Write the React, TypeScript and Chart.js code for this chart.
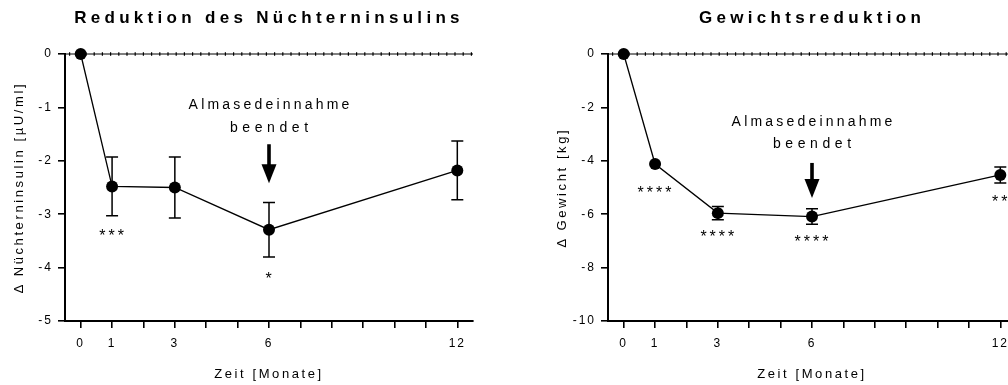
import React, { useEffect, useRef } from "react";
import { Chart, registerables } from "chart.js";
Chart.register(...registerables);

const FONT = '"Liberation Sans", Arial, sans-serif';

// ---- data ----
const months = [0, 1, 3, 6, 12];
const xTickValues = [0, 1, 2, 3, 4, 5, 6, 7, 8, 9, 10, 11, 12];
const xTickLabels = ["0", "1", "3", "6", "12"];

const insulinMean = [0, -2.48, -2.5, -3.29, -2.18];
const insulinSem = [0, 0.55, 0.57, 0.51, 0.55];

const weightMean = [0, -4.12, -5.96, -6.09, -4.53];
const weightSem = [0, 0, 0.25, 0.29, 0.3];

const insulinStarsX = [1, 6];
const insulinStarsY = [-3.36, -4.15];
const insulinStars = ["***", "*"];

const weightStarsX = [1, 3, 6, 12];
const weightStarsY = [-5.08, -6.73, -6.95, -5.45];
const weightStars = ["****", "****", "****", "**"];

const noteLines = ["Almasedeinnahme", "beendet"];
const noteX = 6;
const insulinNoteY = [-0.96, -1.39];
const insulinArrow = [-1.69, -2.42];
const weightNoteY = [-2.54, -3.36];
const weightArrow = [-4.08, -5.39];

type Cfg = {
  title: string;
  yTitle: string;
  mean: number[];
  sem: number[];
  yMin: number;
  yMax: number;
  yStep: number;
  starsX: number[];
  starsY: number[];
  stars: string[];
  noteY: number[];
  arrow: number[];
  yAxisWidth: number;
  padRight: number;
};

function makeChart(canvas: HTMLCanvasElement, c: Cfg) {
  const plugin = {
    id: "custom",
    beforeDraw(chart: any) {
      chart.ctx.letterSpacing = "2px";
    },
    beforeDatasetsDraw(chart: any) {
      const { ctx, chartArea: ca, scales } = chart;
      const x = scales.x;
      const y = scales.y;
      const y0 = y.getPixelForValue(0);
      ctx.save();
      ctx.strokeStyle = "#000";
      ctx.lineWidth = 1;
      ctx.beginPath();
      ctx.moveTo(ca.left, y0);
      ctx.lineTo(ca.right, y0);
      ctx.stroke();
      ctx.setLineDash([1.2, 7]);
      ctx.lineWidth = 3.5;
      ctx.beginPath();
      ctx.moveTo(ca.left + 4, y0);
      ctx.lineTo(ca.right, y0);
      ctx.stroke();
      ctx.setLineDash([]);
      // error bars
      ctx.lineWidth = 1.5;
      months.forEach((m, i) => {
        const e = c.sem[i];
        if (!e) return;
        const px = x.getPixelForValue(m);
        const top = y.getPixelForValue(c.mean[i] + e);
        const bot = y.getPixelForValue(c.mean[i] - e);
        ctx.beginPath();
        ctx.moveTo(px, top);
        ctx.lineTo(px, bot);
        ctx.moveTo(px - 6, top);
        ctx.lineTo(px + 6, top);
        ctx.moveTo(px - 6, bot);
        ctx.lineTo(px + 6, bot);
        ctx.stroke();
      });
      ctx.restore();
    },
    afterDraw(chart: any) {
      const { ctx, chartArea: ca, scales } = chart;
      const x = scales.x;
      const y = scales.y;
      ctx.save();
      ctx.fillStyle = "#000";
      ctx.textAlign = "center";
      ctx.textBaseline = "middle";
      // title
      ctx.font = `bold 17px ${FONT}`;
      ctx.letterSpacing = "4.3px";
      ctx.fillText(c.title, (ca.left + ca.right) / 2, 18);
      // x title
      ctx.font = `13px ${FONT}`;
      ctx.letterSpacing = "2.6px";
      ctx.fillText("Zeit [Monate]", (ca.left + ca.right) / 2, ca.bottom + 53);
      // y title
      ctx.save();
      ctx.translate(ca.left - 45.5, (ca.top + ca.bottom) / 2);
      ctx.rotate(-Math.PI / 2);
      ctx.fillText(c.yTitle, 0, 0);
      ctx.restore();
      // stars
      ctx.font = `16px ${FONT}`;
      ctx.letterSpacing = "3px";
      c.stars.forEach((s, i) => {
        ctx.fillText(s, x.getPixelForValue(c.starsX[i]) + 1, y.getPixelForValue(c.starsY[i]) + 3.5);
      });
      // note
      ctx.font = `14px ${FONT}`;
      const nx = x.getPixelForValue(noteX);
      const spacings = [3.2, 4.6];
      noteLines.forEach((t, i) => {
        ctx.letterSpacing = spacings[i] + "px";
        ctx.fillText(t, nx + spacings[i] / 2, y.getPixelForValue(c.noteY[i]));
      });
      // arrow
      const a0 = y.getPixelForValue(c.arrow[0]);
      const a1 = y.getPixelForValue(c.arrow[1]);
      const head = 19;
      ctx.fillRect(nx - 1.8, a0, 3.6, a1 - head - a0 + 1);
      ctx.beginPath();
      ctx.moveTo(nx - 7.5, a1 - head);
      ctx.lineTo(nx + 7.5, a1 - head);
      ctx.lineTo(nx, a1);
      ctx.closePath();
      ctx.fill();
      ctx.restore();
    },
  };

  return new Chart(canvas, {
    type: "line",
    data: {
      datasets: [
        {
          data: months.map((m, i) => ({ x: m, y: c.mean[i] })),
          borderColor: "#000",
          backgroundColor: "#000",
          borderWidth: 1.3,
          pointRadius: 6,
          pointHoverRadius: 6,
          pointBackgroundColor: "#000",
          pointBorderWidth: 0,
          tension: 0,
          clip: false as any,
        },
      ],
    },
    options: {
      responsive: false,
      animation: false,
      devicePixelRatio: 1,
      layout: { padding: { top: 54, right: c.padRight, left: 0, bottom: 0 } },
      plugins: { legend: { display: false }, tooltip: { enabled: false }, title: { display: false } },
      events: [],
      scales: {
        x: {
          type: "linear",
          min: -0.5,
          max: 12.5,
          afterBuildTicks: (s: any) => {
            s.ticks = xTickValues.map((v) => ({ value: v }));
          },
          afterFit: (s: any) => {
            s.height = 64;
          },
          ticks: {
            autoSkip: false,
            maxRotation: 0,
            padding: 8,
            color: "#000",
            font: { family: FONT, size: 12 },
            callback: (v: any) => (xTickLabels.includes(String(v)) ? String(v) : ""),
          },
          grid: { display: true, drawOnChartArea: false, drawTicks: true, tickLength: 7, color: "#000", lineWidth: 1.6 },
          border: { display: true, color: "#000", width: 2 },
        },
        y: {
          type: "linear",
          min: c.yMin,
          max: c.yMax,
          afterFit: (s: any) => {
            s.width = c.yAxisWidth;
          },
          ticks: {
            stepSize: c.yStep,
            padding: 5,
            color: "#000",
            font: { family: FONT, size: 12 },
          },
          grid: { display: true, drawOnChartArea: false, drawTicks: true, tickLength: 7, color: "#000", lineWidth: 1.6 },
          border: { display: true, color: "#000", width: 2 },
        },
      },
    },
    plugins: [plugin as any],
  });
}

export default function App() {
  const leftRef = useRef<HTMLCanvasElement>(null);
  const rightRef = useRef<HTMLCanvasElement>(null);
  useEffect(() => {
    const a = makeChart(leftRef.current!, {
      title: "Reduktion des Nüchterninsulins",
      yTitle: "∆ Nüchterninsulin [µU/ml]",
      mean: insulinMean,
      sem: insulinSem,
      yMin: -5,
      yMax: 0,
      yStep: 1,
      starsX: insulinStarsX,
      starsY: insulinStarsY,
      stars: insulinStars,
      noteY: insulinNoteY,
      arrow: insulinArrow,
      yAxisWidth: 65,
      padRight: 31,
    });
    const b = makeChart(rightRef.current!, {
      title: "Gewichtsreduktion",
      yTitle: "∆ Gewicht [kg]",
      mean: weightMean,
      sem: weightSem,
      yMin: -10,
      yMax: 0,
      yStep: 2,
      starsX: weightStarsX,
      starsY: weightStarsY,
      stars: weightStars,
      noteY: weightNoteY,
      arrow: weightArrow,
      yAxisWidth: 104,
      padRight: 18,
    });
    return () => {
      a.destroy();
      b.destroy();
    };
  }, []);
  return (
    <div
      style={{
        position: "fixed",
        left: 0,
        top: 0,
        width: 1008,
        height: 385,
        overflow: "hidden",
        background: "#fff",
      }}
    >
      <canvas ref={leftRef} width={504} height={385} style={{ position: "absolute", left: 0, top: 0 }} />
      <canvas ref={rightRef} width={530} height={385} style={{ position: "absolute", left: 504, top: 0 }} />
    </div>
  );
}
